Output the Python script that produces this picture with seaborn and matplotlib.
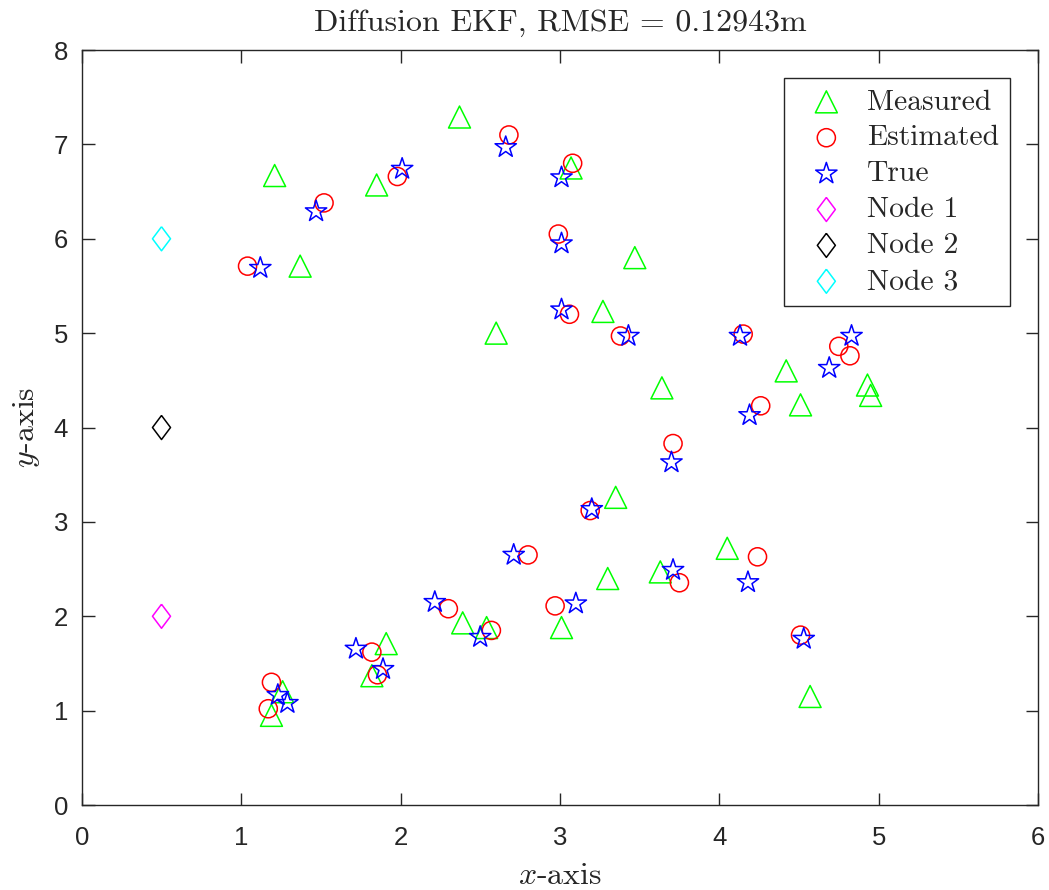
import numpy as np
import matplotlib
matplotlib.use("Agg")
import matplotlib.pyplot as plt
import seaborn as sns

# measured positions (green triangles)
meas_x = [2.37, 1.21, 1.85, 3.07, 1.37, 3.47, 3.27, 2.60, 3.64, 4.42, 4.51, 4.93, 4.95,
          3.35, 4.05, 3.30, 3.63, 3.01, 2.39, 2.54, 1.91, 1.82, 4.57, 1.19, 1.26]
meas_y = [7.29, 6.67, 6.57, 6.75, 5.71, 5.80, 5.23, 5.00, 4.42, 4.60, 4.24, 4.45, 4.34,
          3.26, 2.72, 2.40, 2.47, 1.88, 1.93, 1.88, 1.71, 1.37, 1.15, 0.95, 1.20]

# estimated positions (red circles)
est_x = [2.68, 3.08, 1.98, 1.52, 1.04, 2.99, 3.06, 3.38, 4.15, 4.75, 4.82, 4.26, 3.71,
         3.19, 2.80, 4.24, 3.75, 2.97, 2.30, 2.57, 1.82, 1.855, 1.19, 1.17, 4.51]
est_y = [7.10, 6.80, 6.66, 6.38, 5.71, 6.05, 5.20, 4.97, 4.99, 4.86, 4.76, 4.23, 3.83,
         3.12, 2.65, 2.63, 2.355, 2.11, 2.08, 1.85, 1.62, 1.38, 1.30, 1.02, 1.80]

# true positions (blue stars)
true_x = [2.66, 3.01, 2.01, 1.47, 1.12, 3.01, 3.01, 3.43, 4.13, 4.83, 4.69, 4.19, 3.70,
          3.20, 2.71, 4.18, 3.71, 3.10, 2.215, 2.50, 1.72, 1.89, 1.23, 1.29, 4.53]
true_y = [6.97, 6.65, 6.74, 6.29, 5.69, 5.95, 5.25, 4.97, 4.97, 4.97, 4.63, 4.13, 3.63,
          3.135, 2.65, 2.36, 2.49, 2.135, 2.15, 1.78, 1.655, 1.44, 1.165, 1.08, 1.76]

# anchor nodes
node_names = ["Node 1", "Node 2", "Node 3"]
node_x = [0.5, 0.5, 0.5]
node_y = [2.0, 4.0, 6.0]
node_colors = ["magenta", "black", "cyan"]

sns.set_style("ticks")
plt.rcParams["font.family"] = ["Liberation Sans", "DejaVu Sans"]
plt.rcParams["mathtext.fontset"] = "cm"

fig = plt.figure(figsize=(10.49, 8.9), dpi=100)
ax = fig.add_axes([0.078, 0.0955, 0.9115, 0.8483])

diamond = [(0, 1), (0.75, 0), (0, -1), (-0.75, 0), (0, 1)]
lw = 1.1

sns.scatterplot(x=meas_x, y=meas_y, marker="^", s=250, facecolor="none",
                edgecolor=(0, 1, 0), linewidth=lw, label="Measured", ax=ax)
sns.scatterplot(x=est_x, y=est_y, marker="o", s=170, facecolor="none",
                edgecolor="red", linewidth=lw, label="Estimated", ax=ax)
sns.scatterplot(x=true_x, y=true_y, marker="*", s=260, facecolor="none",
                edgecolor="blue", linewidth=lw, label="True", ax=ax)
for nx, ny, nc, nn in zip(node_x, node_y, node_colors, node_names):
    sns.scatterplot(x=[nx], y=[ny], marker=diamond, s=300, facecolor="none",
                    edgecolor=nc, linewidth=lw, label=nn, ax=ax)

ax.set_xlim(0, 6)
ax.set_ylim(0, 8)
ax.set_xticks(range(0, 7))
ax.set_yticks(range(0, 9))
ax.tick_params(direction="in", length=9, width=1, top=True, right=True,
               labelsize=18.5, colors="#262626")
ax.tick_params(axis="x", pad=15)
ax.tick_params(axis="y", pad=10)
for sp in ax.spines.values():
    sp.set_visible(True)
    sp.set_color("#262626")
    sp.set_linewidth(1)

ax.set_title("Diffusion EKF, RMSE = 0.12943m", fontfamily="cmr10", fontsize=23, pad=14)
ax.set_xlabel(r"$x\text{-axis}$", fontsize=23, labelpad=8)
ax.set_ylabel(r"$y\text{-axis}$", fontsize=23, labelpad=8)

leg = ax.legend(loc="upper right", bbox_to_anchor=(0.9707, 0.963), borderaxespad=0,
                fancybox=False, edgecolor="#262626", framealpha=1, borderpad=0.37,
                labelspacing=0.31, handletextpad=0.3, handlelength=2.15,
                prop={"family": "cmr10", "size": 21.3})
leg.get_frame().set_linewidth(1)

plt.savefig("out.png", dpi=100)
